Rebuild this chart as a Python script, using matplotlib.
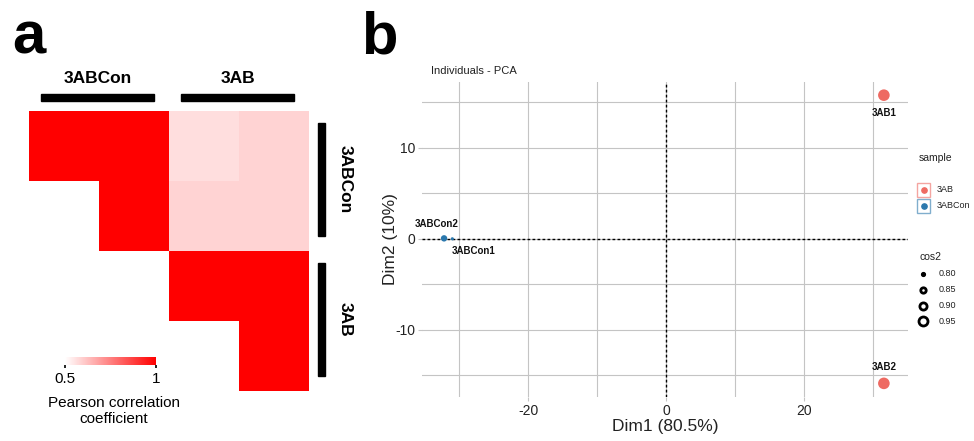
import numpy as np
import matplotlib.pyplot as plt
from matplotlib.colors import LinearSegmentedColormap, Normalize
from matplotlib.patches import Rectangle

plt.rcParams['font.family'] = ['Liberation Sans', 'DejaVu Sans']
plt.rcParams['axes.unicode_minus'] = False

# =============================================================================
# Data
# =============================================================================

# panel a: Pearson correlation between samples
heatmap_samples = ['3ABCon1', '3ABCon2', '3AB1', '3AB2']
group_names = ['3ABCon', '3AB']
group_members = [[0, 1], [2, 3]]
correlation = np.array([
    [1.000, 0.998, 0.565, 0.585],
    [0.998, 1.000, 0.585, 0.585],
    [0.565, 0.585, 1.000, 0.998],
    [0.585, 0.585, 0.998, 1.000],
])

# panel b: PCA individuals
pca_labels = ['3AB1', '3AB2', '3ABCon1', '3ABCon2']
pca_sample = ['3AB', '3AB', '3ABCon', '3ABCon']
dim1 = [31.6, 31.6, -31.0, -32.2]
dim2 = [15.8, -15.9, 0.0, 0.05]
cos2 = [0.99, 0.99, 0.78, 0.86]
cos2_legend = [0.80, 0.85, 0.90, 0.95]

# =============================================================================
# Styles
# =============================================================================

W, H = 974, 441
sample_colors = {'3AB': '#EE6A62', '3ABCon': '#2B78AD'}
label_offsets = {
    '3AB1': (0, -13),
    '3AB2': (0, 11.5),
    '3ABCon1': (15, -9),
    '3ABCon2': (-5, 10),
}
grid_color = '#C4C4C4'


def px_box(left, top, width, height):
    return [left / W, 1 - (top + height) / H, width / W, height / H]


def cos2_to_diameter(c):
    # diameter in pixels -> points
    return (4 + 40 * (c - 0.8)) * 0.72


fig = plt.figure(figsize=(W / 100, H / 100), dpi=100)

# --------------------------------------------------
# Panel a: correlation heatmap (upper triangle)
# --------------------------------------------------

ax_hm = fig.add_axes(px_box(29, 111, 280, 280))
cmap = LinearSegmentedColormap.from_list('wr', ['#FFFFFF', '#FF0000'])
norm = Normalize(vmin=0.5, vmax=1.0)
n = len(heatmap_samples)
mask = np.tril(np.ones((n, n), dtype=bool), k=-1)
im = ax_hm.imshow(np.ma.masked_array(correlation, mask), cmap=cmap,
                  norm=norm, aspect='auto', interpolation='nearest')
ax_hm.set_xlim(-0.5, n - 0.5)
ax_hm.set_ylim(n - 0.5, -0.5)
ax_hm.axis('off')

for name, members in zip(group_names, group_members):
    start = min(members) - 0.5
    end = max(members) + 0.5
    # column annotation (top)
    ax_hm.add_patch(Rectangle((start + 0.17, -0.743), end - start - 0.38, 0.1,
                              color='black', clip_on=False))
    ax_hm.text((start + end) / 2 - 0.02, -0.97, name, ha='center',
               va='center', fontsize=12.5, fontweight='bold')
    # row annotation (right)
    ax_hm.add_patch(Rectangle((3.63, start + 0.17), 0.1, end - start - 0.38,
                              color='black', clip_on=False))
    ax_hm.text(4.01, (start + end) / 2 - 0.02, name, ha='center',
               va='center', rotation=270, fontsize=12.5, fontweight='bold')

cax = fig.add_axes(px_box(65, 357, 91, 8))
cb = fig.colorbar(im, cax=cax, orientation='horizontal', ticks=[0.5, 1.0])
cb.outline.set_visible(False)
cb.ax.set_xticklabels(['0.5', '1'])
cb.ax.tick_params(length=2, width=1.2, labelsize=11, pad=3)
fig.text(114 / W, 1 - 411 / H, 'Pearson correlation\ncoefficient',
         ha='center', va='center', fontsize=11, linespacing=1.1)

# --------------------------------------------------
# Panel b: PCA individuals
# --------------------------------------------------

ax = fig.add_axes(px_box(422, 82, 486, 315))
ax.set_xlim(-35.4, 35.1)
ax.set_ylim(-17.4, 17.25)
ax.set_xticks([-20, 0, 20])
ax.set_xticks([-30, -10, 10, 30], minor=True)
ax.set_yticks([-10, 0, 10])
ax.set_yticks([-15, -5, 5, 15], minor=True)
ax.grid(True, which='both', color=grid_color, linewidth=0.8)
ax.tick_params(which='major', length=3, width=0.8, color=grid_color,
               labelsize=10, labelcolor='#222222', pad=2)
ax.tick_params(which='minor', length=0)
for spine in ax.spines.values():
    spine.set_visible(False)
ax.set_axisbelow(True)

ax.axhline(0, color='black', linestyle=(0, (2, 1.6)), linewidth=1.0, zorder=1)
ax.axvline(0, color='black', linestyle=(0, (2, 1.6)), linewidth=1.0, zorder=1)

sizes = [cos2_to_diameter(c) ** 2 for c in cos2]
ax.scatter(dim1, dim2, s=sizes, c=[sample_colors[s] for s in pca_sample],
           linewidths=0, zorder=3)
for label, x, y in zip(pca_labels, dim1, dim2):
    ax.annotate(label, (x, y), xytext=label_offsets[label],
                textcoords='offset points', ha='center', va='center',
                fontsize=7, fontweight='bold', color='#111111')

ax.set_xlabel('Dim1 (80.5%)', fontsize=12.5, color='#222222')
ax.set_ylabel('Dim2 (10%)', fontsize=12.5, color='#222222')
ax.xaxis.set_label_coords(0.5, -(427 - 397) / 315)
ax.xaxis.label.set_va('center')
ax.yaxis.set_label_coords((391 - 422) / 486, 0.5)
ax.yaxis.label.set_va('center')
ax.text((431 - 422) / 486, 1 + (82 - 71) / 315, 'Individuals - PCA',
        transform=ax.transAxes, ha='left', va='center', fontsize=8,
        color='#222222')

# --------------------------------------------------
# Overlay: panel letters and PCA legends (pixel coordinates)
# --------------------------------------------------

ov = fig.add_axes([0, 0, 1, 1], zorder=5)
ov.set_xlim(0, W)
ov.set_ylim(H, 0)
ov.axis('off')

ov.text(12, 54, 'a', fontsize=43, fontweight='bold', va='baseline')
ov.text(361, 54, 'b', fontsize=43, fontweight='bold', va='baseline')

ov.text(919, 158, 'sample', fontsize=7.5, va='center', color='#222222')
for i, name in enumerate(group_names[::-1]):
    yc = 190 + 16 * i
    ov.add_patch(Rectangle((917, yc - 7), 13, 14, facecolor='white',
                           edgecolor=sample_colors[name], alpha=0.6,
                           linewidth=1))
    ov.plot(923.5, yc, 'o', color=sample_colors[name], markersize=3.8)
    ov.text(937, yc, name, fontsize=6.5, va='center', color='#222222')

ov.text(919, 257, 'cos2', fontsize=7.5, va='center', color='#222222')
for i, c in enumerate(cos2_legend):
    yc = 274 + 15.8 * i
    d = cos2_to_diameter(c)
    if i == 0:
        ov.plot(923, yc, 'o', color='black', markersize=d * 0.95)
    else:
        ov.plot(923, yc, 'o', markerfacecolor='white',
                markeredgecolor='black', markeredgewidth=2.0,
                markersize=d * 0.9)
    ov.text(939, yc, f'{c:.2f}', fontsize=6.5, va='center', color='#222222')

plt.savefig('out.png', dpi=100)
